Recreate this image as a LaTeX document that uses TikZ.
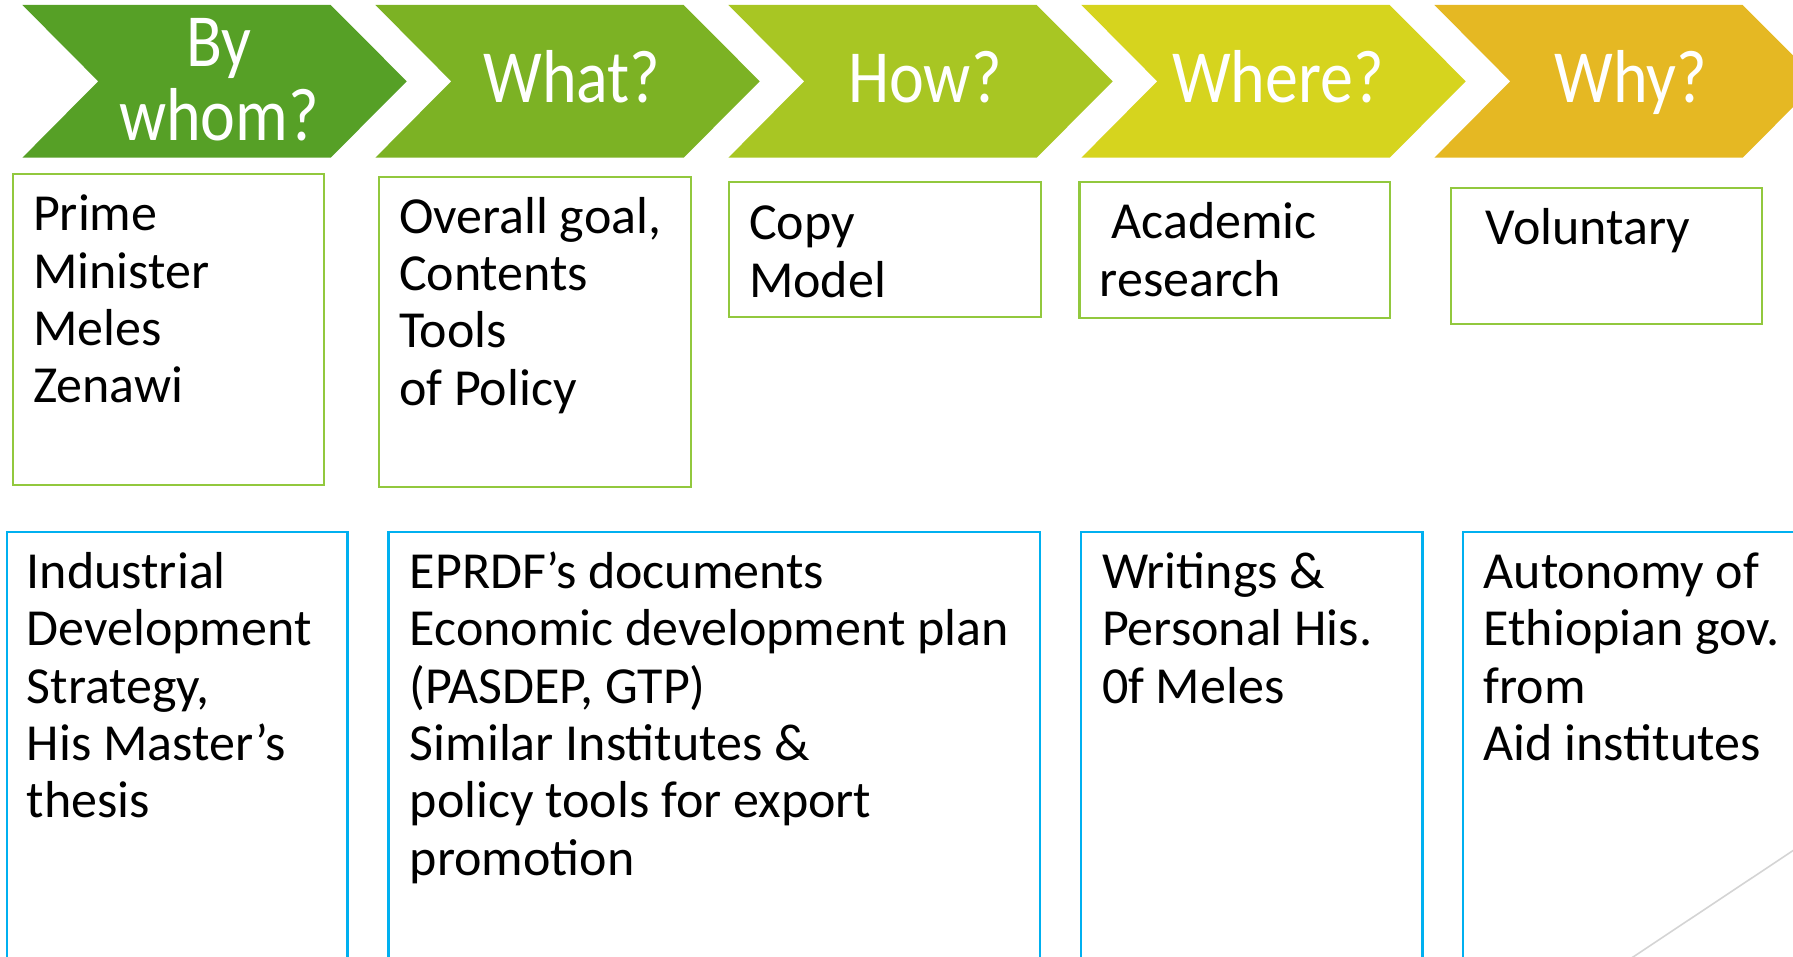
\documentclass[tikz,border=0pt]{standalone}
\usepackage{fontspec}
\setmainfont{Carlito}
\newfontfamily\headfont[FakeStretch=0.88]{Carlito}
\usetikzlibrary{calc}
\definecolor{chA}{HTML}{56A026}
\definecolor{chB}{HTML}{7CB224}
\definecolor{chC}{HTML}{A8C623}
\definecolor{chD}{HTML}{D6D41E}
\definecolor{chE}{HTML}{E5B823}
\definecolor{greenline}{HTML}{92C83E}
\definecolor{blueline}{HTML}{00B0F0}
\definecolor{facet}{HTML}{D4D4D4}
\begin{document}
\begin{tikzpicture}[x=1pt,y=-1pt,
  topbox/.style={draw=greenline, line width=2.2pt, rectangle, inner sep=0pt, outer sep=0pt, anchor=north west},
  botbox/.style={draw=blueline, line width=2.2pt, rectangle, inner sep=0pt, outer sep=0pt, anchor=north west},
  bodytext/.style={anchor=north west, inner sep=0pt, outer sep=0pt, align=left, text=black, font=\fontsize{52}{57.4}\selectfont},
  headtext/.style={text=white, inner sep=0pt, outer sep=0pt, align=center, font=\headfont\fontsize{75}{70}\selectfont},
  chev/.style={draw=none}
]
\path[use as bounding box, clip] (0,0) rectangle (1793,957);

% chevrons
\foreach \L/\c in {22.4/chA, 375.4/chB, 728.4/chC, 1081.4/chD, 1434.4/chE}{
  \fill[\c] (\L,5) -- (\L+308.3,5) -- (\L+384.3,81.3) -- (\L+308.3,157.7) -- (\L,157.7) -- (\L+75.8,81.3) -- cycle;
}
\node[headtext, anchor=north] (hA) at (219,17.7) {\strut By\\whom?};
\node[headtext, anchor=base] (hB) at (572,102.3) {What?};
\node[headtext, anchor=base] (hC) at (925,102.3) {How?};
\node[headtext, anchor=base] (hD) at (1278,102.3) {Where?};
\node[headtext, anchor=base] (hE) at (1631,102.3) {Why?};

% top boxes
\node[topbox, minimum width=311.4pt, minimum height=311pt] (bA) at (12.6,174) {};
\node[topbox, minimum width=312pt, minimum height=310pt] (bB) at (379,176.7) {};
\node[topbox, minimum width=311.6pt, minimum height=134.7pt] (bC) at (729,182) {};
\node[topbox, minimum width=310.6pt, minimum height=135.4pt] (bD) at (1079.4,182.3) {};
\node[topbox, minimum width=311pt, minimum height=135.7pt] (bE) at (1451,188.3) {};

\node[bodytext] (tA) at ($(bA.north west)+(20.4,16.5)$) {\strut Prime\\Minister\\Meles\\Zenawi};
\node[bodytext] (tB) at ($(bB.north west)+(20,16.2)$) {\strut Overall goal,\\Contents\\Tools\\of Policy};
\node[bodytext] (tC) at ($(bC.north west)+(20,17.8)$) {\strut Copy\\Model};
\node[bodytext] (tD) at ($(bD.north west)+(20.4,16.5)$) {\strut\ Academic\\research};
\node[bodytext] (tE) at ($(bE.north west)+(23,16.5)$) {\strut\ Voluntary};

% bottom boxes
\node[botbox, minimum width=340.8pt, minimum height=460pt] (bF) at (6.7,531.7) {};
\node[botbox, minimum width=651.6pt, minimum height=460pt] (bG) at (388.4,531.7) {};
\node[botbox, minimum width=341.7pt, minimum height=460pt] (bH) at (1080.8,531.7) {};
\node[botbox, minimum width=400pt, minimum height=460pt] (bI) at (1463.3,531.7) {};

\node[bodytext] (tF) at ($(bF.north west)+(20.1,16.4)$) {\strut Industrial\\Development\\Strategy,\\His Master’s\\thesis};
\node[bodytext] (tG) at ($(bG.north west)+(21.4,16.4)$) {\strut EPRDF’s documents\\Economic development plan\\(PASDEP, GTP)\\Similar Institutes \&\\policy tools for export\\promotion};
\node[bodytext] (tH) at ($(bH.north west)+(21.2,16.4)$) {\strut Writings \&\\Personal His.\\0f Meles};
\node[bodytext] (tI) at ($(bI.north west)+(20.3,16.4)$) {\strut Autonomy of\\Ethiopian gov.\\from\\Aid institutes};

% facet decoration line
\coordinate (fa) at (1618,967);
\coordinate (fb) at (1808,840.6);
\draw[facet, line width=1.6pt] (fa) -- (fb);
\end{tikzpicture}
\end{document}
